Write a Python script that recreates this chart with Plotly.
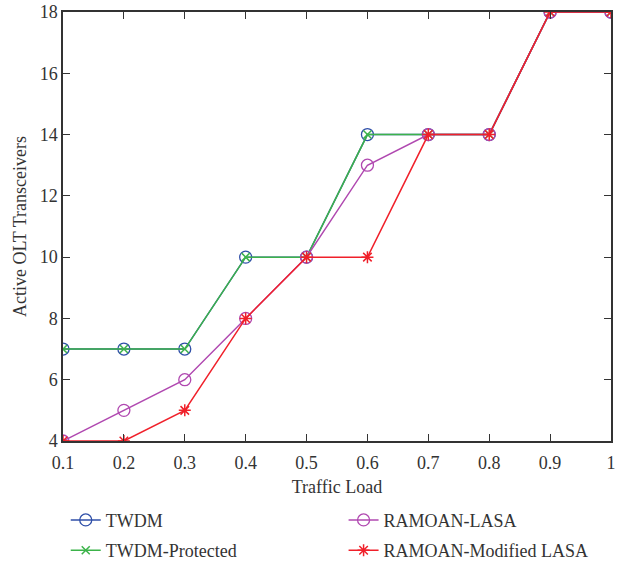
import plotly.graph_objects as go

load = [0.1, 0.2, 0.3, 0.4, 0.5, 0.6, 0.7, 0.8, 0.9, 1.0]
twdm = [7, 7, 7, 10, 10, 14, 14, 14, 18, 18]
twdm_protected = [7, 7, 7, 10, 10, 14, 14, 14, 18, 18]
ramoan_lasa = [4, 5, 6, 8, 10, 13, 14, 14, 18, 18]
ramoan_mod_lasa = [4, 4, 5, 8, 10, 10, 14, 14, 18, 18]

xticks = [0.1, 0.2, 0.3, 0.4, 0.5, 0.6, 0.7, 0.8, 0.9, 1.0]
xticklabels = ["0.1", "0.2", "0.3", "0.4", "0.5", "0.6", "0.7", "0.8", "0.9", "1"]
yticks = [4, 6, 8, 10, 12, 14, 16, 18]

FONT = "Liberation Serif"

fig = go.Figure()
fig.add_trace(go.Scatter(
    x=load, y=twdm, name="TWDM", mode="lines+markers", legendgroup="a",
    line=dict(color="#2f4fa8", width=1.5),
    marker=dict(symbol="circle-open", size=12, color="#2f4fa8", line=dict(width=1.3)),
    legend="legend"))
fig.add_trace(go.Scatter(
    x=load, y=twdm_protected, name="TWDM-Protected", mode="lines+markers", legendgroup="b",
    line=dict(color="#3cb34a", width=1.5),
    marker=dict(symbol="x-thin-open", size=8, color="#3cb34a", line=dict(width=1.5, color="#3cb34a")),
    legend="legend"))
fig.add_trace(go.Scatter(
    x=load, y=ramoan_lasa, name="RAMOAN-LASA", mode="lines+markers", legendgroup="c",
    line=dict(color="#b048b0", width=1.5),
    marker=dict(symbol="circle-open", size=12, color="#b048b0", line=dict(width=1.3)),
    legend="legend2"))
fig.add_trace(go.Scatter(
    x=load, y=ramoan_mod_lasa, name="RAMOAN-Modified LASA", mode="lines+markers", legendgroup="d",
    line=dict(color="#f0202a", width=1.5),
    marker=dict(symbol="asterisk-open", size=10, color="#f0202a", line=dict(width=1.5, color="#f0202a")),
    legend="legend2"))

axis_common = dict(
    showline=True, linecolor="#333333", linewidth=1.5, mirror="ticks",
    ticks="inside", ticklen=7, tickcolor="#333333", tickwidth=1.2,
    showgrid=False, zeroline=False, automargin=False,
    tickfont=dict(family=FONT, size=18, color="#333333"),
)

legend_common = dict(
    yref="container", y=0.112, xanchor="left", yanchor="top",
    bgcolor="rgba(0,0,0,0)", font=dict(family=FONT, size=18, color="#333333"),
    tracegroupgap=4, itemwidth=30,
)

fig.update_layout(
    width=619, height=565,
    margin=dict(l=63, r=8, t=12, b=124),
    paper_bgcolor="white", plot_bgcolor="white",
    font=dict(family=FONT, size=18, color="#333333"),
    xaxis=dict(range=[0.1, 1.0], tickvals=xticks, ticktext=xticklabels,
               ticklabelstandoff=5,
               title=dict(text="Traffic Load", font=dict(family=FONT, size=18), standoff=8),
               **axis_common),
    yaxis=dict(range=[4, 18], tickvals=yticks,
               title=dict(text="Active OLT Transceivers", font=dict(family=FONT, size=18), standoff=8),
               **axis_common),
    legend=dict(x=0.005, **legend_common),
    legend2=dict(x=0.512, **legend_common),
    showlegend=True,
)

fig.write_html("out.html")
